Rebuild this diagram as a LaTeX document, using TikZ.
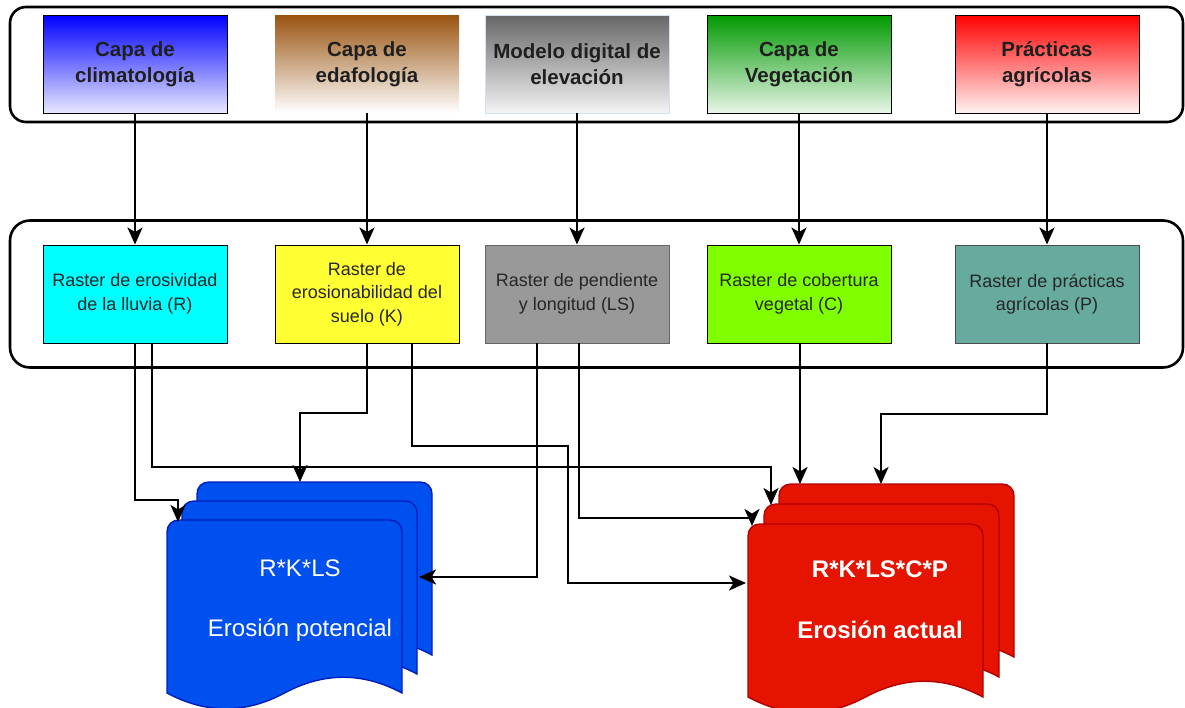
\documentclass[tikz,border=0pt]{standalone}
\usepackage{fontspec}
\setmainfont{Liberation Sans}
\usetikzlibrary{arrows.meta,calc}
\definecolor{brownTop}{HTML}{9A5410}
\definecolor{greyTop}{HTML}{666666}
\definecolor{greenTop}{HTML}{009900}
\definecolor{rCyan}{HTML}{00FFFF}
\definecolor{kYellow}{HTML}{FFFF33}
\definecolor{lsGrey}{HTML}{999999}
\definecolor{cLime}{HTML}{80FF00}
\definecolor{pTeal}{HTML}{67AB9F}
\definecolor{docBlue}{HTML}{0050EF}
\definecolor{docBlueLine}{HTML}{001DBC}
\definecolor{docRed}{HTML}{E51400}
\definecolor{docRedLine}{HTML}{B20000}
\definecolor{paleBlue}{HTML}{D4E1F5}
\newcommand{\docpage}[4]{%
\begin{scope}[shift={(#1,#2)}]
\draw[fill=#3,draw=#4,line width=1.4pt] (0,173) -- (0,12) .. controls (0,5) and (5,0) .. (12,0) -- (223,0) .. controls (230,0) and (235,5) .. (235,12) -- (235,173) .. controls (195.8,152) and (156.7,152) .. (117.5,173) .. controls (78.3,194) and (39.2,194) .. (0,173) -- cycle;
\end{scope}}
\tikzset{
  container/.style={draw=black, line width=2.6pt, rounded corners=16pt, minimum width=1173pt, inner sep=0pt},
  topbox/.style={minimum width=184pt, minimum height=98pt, inner sep=0pt, align=center, font=\fontsize{20.5}{26}\selectfont\bfseries, text=black!88},
  midbox/.style={minimum width=184pt, minimum height=98pt, inner sep=0pt, align=center, font=\fontsize{18}{23.5}\selectfont, text=black!85, draw=black, line width=0.9pt},
  conn/.style={line width=2.5pt, arrows={-Stealth[length=17pt, width=15pt, inset=4.5pt]}},
  doctext/.style={text=white, font=\fontsize{24}{28}\selectfont}
}
\begin{document}
\begin{tikzpicture}[x=1pt,y=-1pt]
\useasboundingbox (0,0) rectangle (1185,707);
% containers
\node[container, minimum height=115pt] (topgroup) at (596.5,64.5) {};
\node[container, minimum height=147pt, rounded corners=20pt] (midgroup) at (596.5,294) {};
% top boxes
\node[topbox, draw=black, line width=0.9pt, top color=blue, bottom color=blue!9] (T1) at (135,64) {Capa de\\climatología};
\node[topbox, top color=brownTop, bottom color=white] (T2) at (367,64) {Capa de\\edafología};
\node[topbox, draw=paleBlue, line width=0.9pt, top color=greyTop, bottom color=greyTop!7] (T3) at (577,64) {Modelo digital de\\elevación};
\node[topbox, draw=black, line width=0.9pt, top color=greenTop, bottom color=greenTop!9] (T4) at (799,64) {Capa de\\Vegetación};
\node[topbox, draw=black, line width=0.9pt, top color=red, bottom color=red!5] (T5) at (1047,64) {Prácticas\\agrícolas};
% middle boxes
\node[midbox, fill=rCyan] (M1) at (135,294) {Raster de erosividad\\de la lluvia (R)};
\node[midbox, fill=kYellow] (M2) at (367,294) {Raster de\\erosionabilidad del\\suelo (K)};
\node[midbox, fill=lsGrey, draw=black!60] (M3) at (577,294) {Raster de pendiente\\y longitud (LS)};
\node[midbox, fill=cLime] (M4) at (799,294) {Raster de cobertura\\vegetal (C)};
\node[midbox, fill=pTeal, draw=black!70] (M5) at (1047,294) {Raster de prácticas\\agrícolas (P)};
% top to middle arrows
\draw[conn] (T1.south) -- (M1.north);
\draw[conn] (T2.south) -- (M2.north);
\draw[conn] (T3.south) -- (M3.north);
\draw[conn] (T4.south) -- (M4.north);
\draw[conn] (T5.south) -- (M5.north);
% documents
\docpage{197}{482}{docBlue}{docBlueLine}
\docpage{182}{501}{docBlue}{docBlueLine}
\docpage{167}{520}{docBlue}{docBlueLine}
\docpage{779}{484}{docRed}{docRedLine}
\docpage{764}{504}{docRed}{docRedLine}
\docpage{748}{524}{docRed}{docRedLine}
\node[doctext] (potF) at (300,568) {R*K*LS};
\node[doctext] (potN) at (300,630) {Erosión potencial};
\node[doctext, font=\fontsize{24}{28}\selectfont\bfseries] (actF) at (880,569) {R*K*LS*C*P};
\node[doctext, font=\fontsize{24}{28}\selectfont\bfseries] (actN) at (880,630) {Erosión actual};
% connector targets
\coordinate (pR) at (178,522);
\coordinate (pK) at (300,482);
\coordinate (pLS) at (419,577);
\coordinate (aR) at (771,505);
\coordinate (aK) at (746,583);
\coordinate (aLS) at (752,526);
\coordinate (aC) at (800,484);
\coordinate (aP) at (881,484);
% bottom connectors
\draw[conn] (M1.south) |- (178,500) -- (pR);
\draw[conn] ([xshift=17pt]M1.south) |- (771,467) -- (aR);
\draw[conn] (M2.south) |- (300,413) -- (pK);
\draw[conn] ([xshift=45pt]M2.south) |- (568,446) |- (aK);
\draw[conn] ([xshift=-40pt]M3.south) |- (pLS);
\draw[conn] ([xshift=2pt]M3.south) |- (752,518) -- (aLS);
\draw[conn] ([xshift=1pt]M4.south) -- (aC);
\draw[conn] (M5.south) |- (881,414) -- (aP);
\end{tikzpicture}
\end{document}
